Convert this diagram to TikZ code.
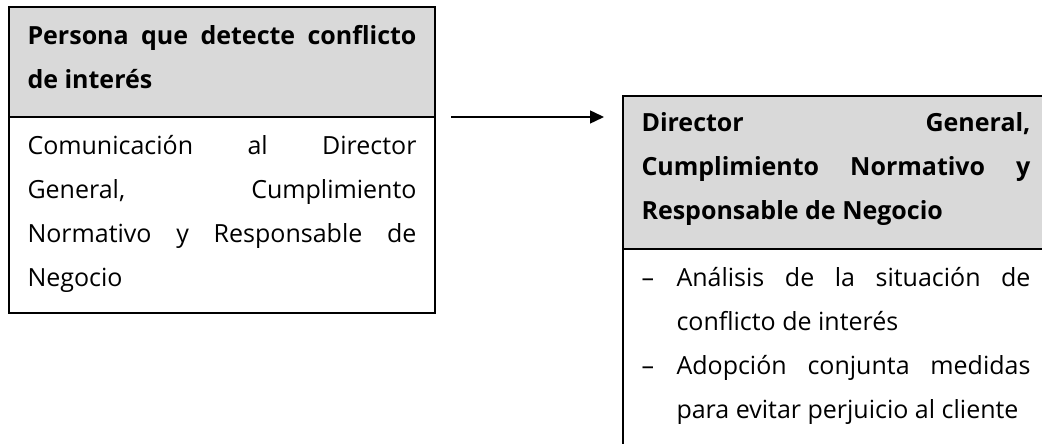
\documentclass[tikz,border=0pt]{standalone}
\usepackage{fontspec}
\setmainfont{Open Sans}
\usetikzlibrary{positioning,arrows.meta}
\definecolor{gris}{HTML}{D9D9D9}
\newcommand{\guion}{\hangindent=35pt\hangafter=1\makebox[35pt][l]{--}}

\begin{document}
\begin{tikzpicture}[x=1pt,y=1pt,
        caja/.style={draw,line width=2.8pt,outer sep=0pt,inner xsep=18.5pt,inner ysep=0pt,
            text width=389pt,align=justify,font=\fontsize{25}{44}\selectfont,text height=38pt},
        cabecera/.style={caja,fill=gris,font=\fontsize{25}{44}\selectfont\bfseries},
        flecha/.style={-{Triangle[length=14pt,width=13pt]},line width=1.5pt}]
    \useasboundingbox (0,0) rectangle (1042,444);
    \clip (0,0) rectangle (1042,444);
    % quien detecta el conflicto
    \node[cabecera,anchor=north west,text depth=72pt] (perhead) at (9,437)
        {Persona que detecte conflicto\linebreak de interés};
    \node[caja,below=0pt of perhead,text depth=158pt] (perbody)
        {Comunicación al Director\linebreak General, Cumplimiento\linebreak Normativo y Responsable de\linebreak Negocio};
    % quien lo analiza
    \node[cabecera,anchor=north west,text height=36pt,text depth=117pt] (dirhead) at (623,348)
        {Director General,\linebreak Cumplimiento Normativo y\linebreak Responsable de Negocio};
    \node[caja,below=0pt of dirhead,text depth=185pt] (dirbody)
        {\guion Análisis de la situación de\linebreak conflicto de interés\par
         \guion Adopción conjunta medidas\linebreak para evitar perjuicio al cliente\par};
    \draw[flecha] ([xshift=16pt]perhead.south east) -- ([xshift=-19pt]perhead.south east -| dirhead.west);
\end{tikzpicture}
\end{document}
